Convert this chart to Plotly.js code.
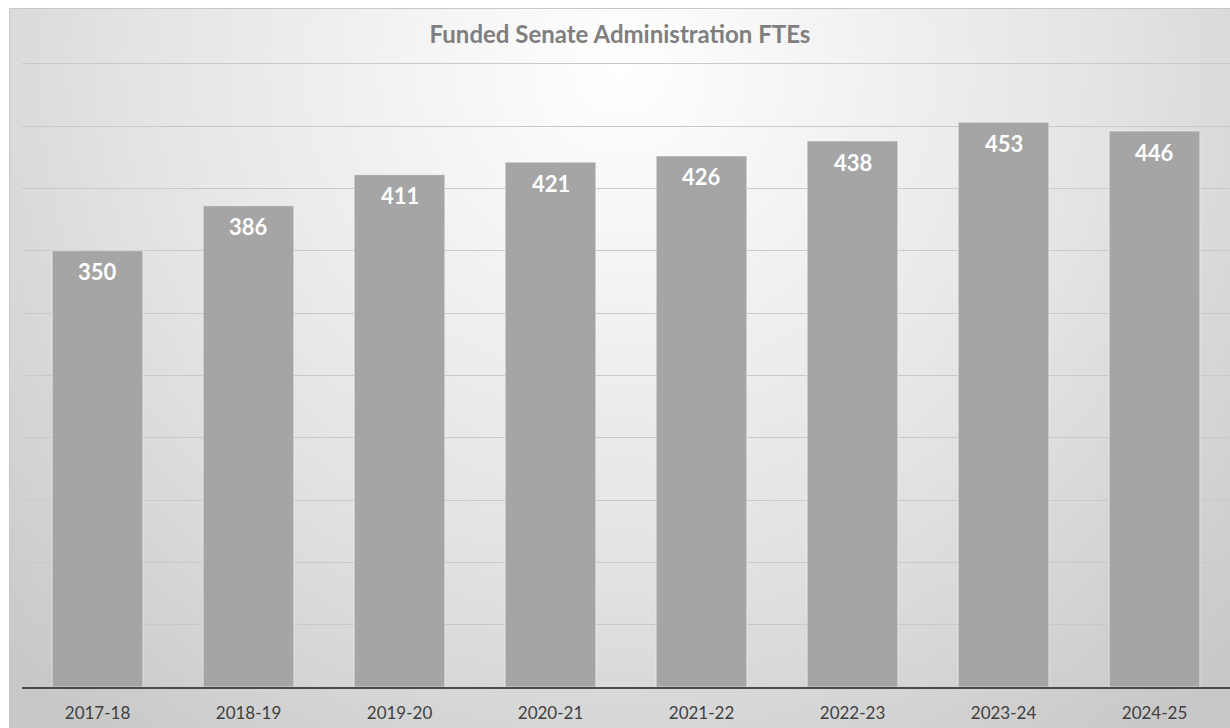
<!DOCTYPE html>
<html>
<head>
<meta charset="utf-8">
<script src="https://cdn.plot.ly/plotly-3.0.1.min.js"></script>
<style>
  html, body { margin: 0; padding: 0; background: #ffffff; overflow: hidden; }
  #wrap {
    position: absolute; left: 9px; top: 8px; width: 1221px; height: 720px;
    border-top: 1px solid #c8c8c8; border-left: 1px solid #c8c8c8; box-sizing: border-box;
    background: radial-gradient(circle at 50% 8%, #ffffff 0px, #f4f4f4 200px, #e4e4e4 480px, #d2d2d2 720px, #c8c8c8 850px);
  }
  #chart { width: 1220px; height: 719px; }
</style>
</head>
<body>
<div id="wrap"><div id="chart"></div></div>
<script>
const categories = ["2017-18", "2018-19", "2019-20", "2020-21", "2021-22", "2022-23", "2023-24", "2024-25"];
const ftes = [350, 386, 411, 421, 426, 438, 453, 446];
const chartTitle = "Funded Senate Administration FTEs";

const trace = {
  type: "bar",
  x: categories,
  y: ftes,
  marker: { color: "#a5a5a5", line: { color: "rgba(255,255,255,0.45)", width: 1 } },
  hoverinfo: "x+y",
  cliponaxis: false
};

const annotations = categories.map((c, i) => ({
  x: c, y: ftes[i], xref: "x", yref: "y",
  text: String(ftes[i]), showarrow: false,
  yanchor: "middle", yshift: -21,
  font: { family: "Lato, 'Open Sans', sans-serif", size: 22, color: "#ffffff", weight: 700 }
}));

const layout = {
  width: 1220, height: 719,
  paper_bgcolor: "rgba(0,0,0,0)",
  plot_bgcolor: "rgba(0,0,0,0)",
  margin: { l: 12, r: 0, t: 51, b: 41 },
  title: {
    text: "<b>" + chartTitle + "</b>",
    x: 0.5, xanchor: "center", y: 0.965, yanchor: "middle",
    font: { family: "Lato, 'Open Sans', sans-serif", size: 24, color: "#7f7f7f" }
  },
  bargap: 0.4,
  showlegend: false,
  xaxis: {
    type: "category",
    showgrid: false,
    showline: true, linecolor: "#4a4a4a", linewidth: 1.5,
    ticks: "", ticklabelstandoff: 10,
    tickfont: { family: "Lato, 'Open Sans', sans-serif", size: 17, color: "#404040" },
    automargin: false
  },
  yaxis: {
    range: [0, 503],
    tickvals: [50, 100, 150, 200, 250, 300, 350, 400, 450, 500],
    showgrid: true, gridcolor: "#c9c9c9", gridwidth: 1,
    zeroline: false, showticklabels: false, ticks: "",
    automargin: false
  },
  annotations: annotations
};

Plotly.newPlot("chart", [trace], layout, { displayModeBar: false, staticPlot: true });
</script>
</body>
</html>
